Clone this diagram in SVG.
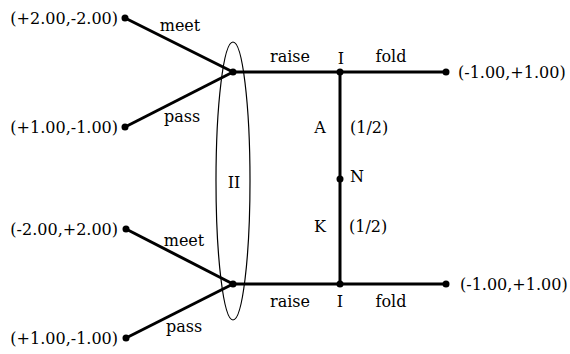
<svg xmlns="http://www.w3.org/2000/svg" width="570" height="354" viewBox="0 0 570 354">
<style>
text{font-family:"DejaVu Serif",serif;font-size:16px;fill:#000}
.e{stroke:#000;stroke-width:3;fill:none}
.d{fill:#000}
.m{text-anchor:middle}
.r{text-anchor:end}
</style>
<rect width="570" height="354" fill="#fff"/>
<g id="connectors">
<line class="e" x1="125" y1="18" x2="233" y2="72"/>
<line class="e" x1="125" y1="127" x2="233" y2="72"/>
<line class="e" x1="233" y1="72" x2="340" y2="72"/>
<line class="e" x1="340" y1="72" x2="446" y2="72"/>
<line class="e" x1="340" y1="72" x2="340" y2="284"/>
<line class="e" x1="126" y1="229" x2="233" y2="284"/>
<line class="e" x1="126" y1="338" x2="233" y2="284"/>
<line class="e" x1="233" y1="284" x2="340" y2="284"/>
<line class="e" x1="340" y1="284" x2="446" y2="284"/>
<text class="m" x="180" y="31">meet</text>
<text class="m" x="182" y="122">pass</text>
<text class="m" x="290" y="62">raise</text>
<text class="m" x="391" y="62">fold</text>
<text class="m" x="320" y="133">A</text>
<text x="350" y="133">(1/2)</text>
<text class="m" x="320" y="232">K</text>
<text x="349" y="232">(1/2)</text>
<text class="m" x="184" y="246">meet</text>
<text class="m" x="184" y="332">pass</text>
<text class="m" x="290" y="307">raise</text>
<text class="m" x="391" y="307">fold</text>
</g>
<g id="infoset">
<ellipse cx="233" cy="181" rx="17" ry="139" fill="none" stroke="#000" stroke-width="1.2"/>
<text class="m" x="234" y="188">II</text>
</g>
<g id="leaf1"><circle class="d" cx="125" cy="18" r="3.5"/><text class="r" x="118" y="24">(+2.00,-2.00)</text></g>
<g id="leaf2"><circle class="d" cx="125" cy="127" r="3.5"/><text class="r" x="118" y="133">(+1.00,-1.00)</text></g>
<g id="nodeII1"><circle class="d" cx="233" cy="72" r="3.5"/></g>
<g id="nodeI1"><circle class="d" cx="340" cy="72" r="3.5"/><text class="m" x="341" y="64">I</text></g>
<g id="leaf3"><circle class="d" cx="446" cy="72" r="3.5"/><text x="458" y="78">(-1.00,+1.00)</text></g>
<g id="nodeN"><circle class="d" cx="340" cy="179" r="3.5"/><text x="350" y="182">N</text></g>
<g id="leaf4"><circle class="d" cx="126" cy="229" r="3.5"/><text class="r" x="118" y="235">(-2.00,+2.00)</text></g>
<g id="leaf5"><circle class="d" cx="126" cy="338" r="3.5"/><text class="r" x="118" y="344">(+1.00,-1.00)</text></g>
<g id="nodeII2"><circle class="d" cx="233" cy="284" r="3.5"/></g>
<g id="nodeI2"><circle class="d" cx="340" cy="284" r="3.5"/><text class="m" x="340" y="307">I</text></g>
<g id="leaf6"><circle class="d" cx="446" cy="284" r="3.5"/><text x="460" y="290">(-1.00,+1.00)</text></g>
</svg>
